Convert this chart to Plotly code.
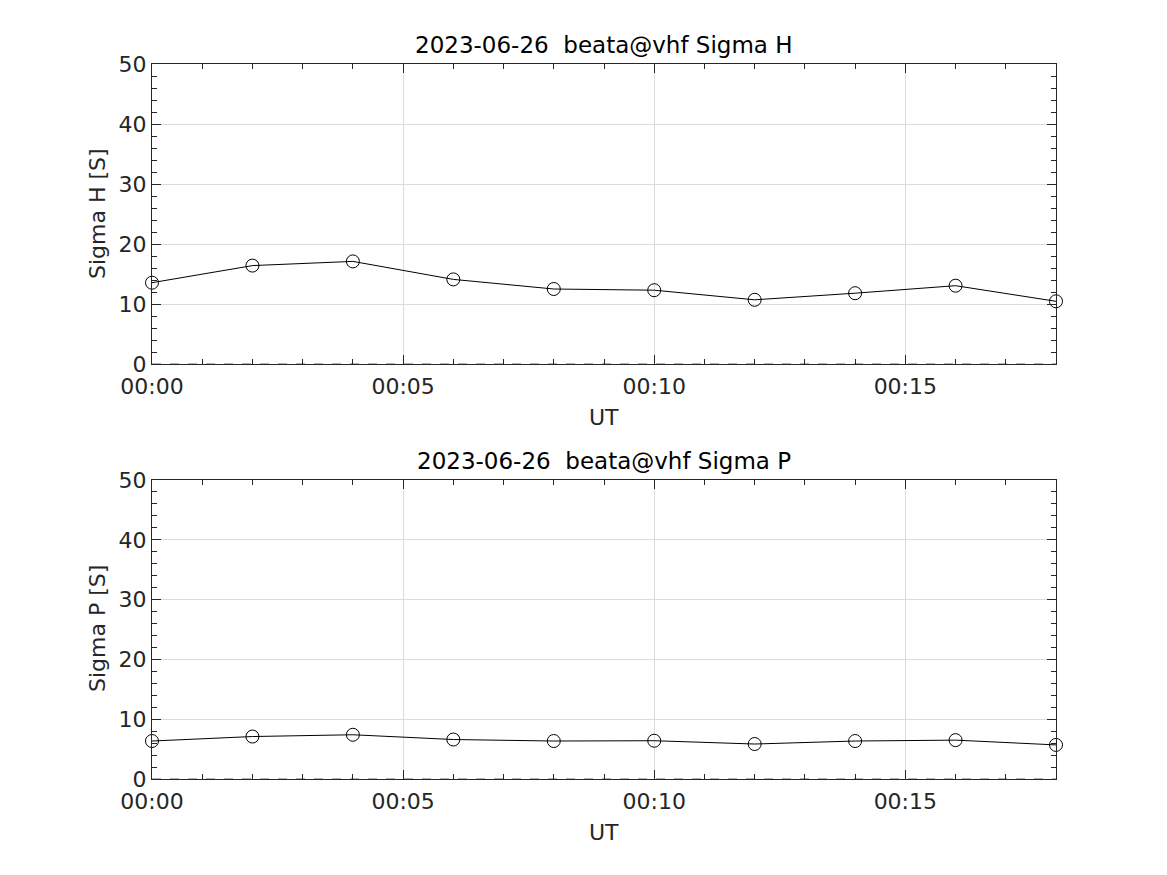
import plotly.graph_objects as go
import pandas as pd

times = ["2023-06-26 00:00", "2023-06-26 00:02", "2023-06-26 00:04", "2023-06-26 00:06",
         "2023-06-26 00:08", "2023-06-26 00:10", "2023-06-26 00:12", "2023-06-26 00:14",
         "2023-06-26 00:16", "2023-06-26 00:18"]
sigma_h = [13.55, 16.4, 17.1, 14.1, 12.5, 12.3, 10.7, 11.8, 13.05, 10.45]
sigma_p = [6.35, 7.1, 7.4, 6.6, 6.35, 6.4, 5.85, 6.35, 6.5, 5.7]
zero_line = [0] * len(times)

titles = ["2023-06-26  beata@vhf Sigma H", "2023-06-26  beata@vhf Sigma P"]
ylabels = ["Sigma H [S]", "Sigma P [S]"]
xlabel = "UT"
x_range = ["2023-06-26 00:00", "2023-06-26 00:18"]
y_range = [0, 50]
ytick_vals = [0, 10, 20, 30, 40, 50]

x = pd.to_datetime(times)

FONT = "DejaVu Sans, Liberation Sans, sans-serif"
TXT = "#262626"
FS = 22

OFF = 8  # page body margin
W, H = 1167 - 2 * OFF, 875 - 2 * OFF
L, R, T, B = 152 - OFF, 1056 - OFF, 64 - OFF, 779 - OFF  # plot area edges in px
PH = B - T

def py(p):
    return (B - (p - OFF)) / PH

def px(p):
    return ((p - OFF) - L) / (R - L)

fig = go.Figure()

for i, (vals, ax) in enumerate([(sigma_h, ""), (sigma_p, "2")]):
    fig.add_trace(go.Scatter(x=x, y=zero_line, mode="lines",
                             line=dict(color="#9a9a9a", width=1.5, dash="dash"),
                             xaxis="x" + ax, yaxis="y" + ax, showlegend=False,
                             hoverinfo="skip"))
    fig.add_trace(go.Scatter(x=x, y=vals, mode="lines+markers",
                             line=dict(color="black", width=1),
                             marker=dict(symbol="circle-open", size=13,
                                         color="black", line=dict(width=1, color="black")),
                             xaxis="x" + ax, yaxis="y" + ax, showlegend=False,
                             cliponaxis=False))

ydoms = [[py(364), 1.0], [0.0, py(480)]]

def xaxis_cfg(anchor):
    return dict(domain=[0, 1], anchor=anchor, type="date", automargin=False,
                range=x_range, tickformat="%H:%M", dtick=5 * 60 * 1000,
                tick0="2023-06-26 00:00", ticklabelstandoff=3,
                ticks="inside", ticklen=9, tickwidth=1, tickcolor=TXT,
                showline=True, linecolor=TXT, linewidth=1, mirror="ticks",
                showgrid=True, gridcolor="#dcdcdc", gridwidth=1,
                minor=dict(ticks="inside", ticklen=5, dtick=60 * 1000,
                           tickcolor=TXT, showgrid=False),
                tickfont=dict(family=FONT, size=FS, color=TXT),
                zeroline=False)

def yaxis_cfg(anchor, dom):
    return dict(domain=dom, anchor=anchor, range=y_range, automargin=False,
                tickvals=ytick_vals,
                ticks="inside", ticklen=9, tickwidth=1, tickcolor=TXT,
                showline=True, linecolor=TXT, linewidth=1, mirror="ticks",
                showgrid=True, gridcolor="#dcdcdc", gridwidth=1,
                minor=dict(ticks="inside", ticklen=5, dtick=2,
                           tickcolor=TXT, showgrid=False),
                tickfont=dict(family=FONT, size=FS, color=TXT),
                zeroline=False)

annotations = []
for title, ty in zip(titles, [45, 461]):
    annotations.append(dict(text=title, x=0.5, y=py(ty), xref="paper", yref="paper",
                            showarrow=False, font=dict(family=FONT, size=23, color="black"),
                            xanchor="center", yanchor="middle"))
for xy in [417, 832]:
    annotations.append(dict(text=xlabel, x=0.5, y=py(xy), xref="paper", yref="paper",
                            showarrow=False, font=dict(family=FONT, size=FS, color=TXT),
                            xanchor="center", yanchor="middle"))
for lab, cy in zip(ylabels, [214, 629]):
    annotations.append(dict(text=lab, x=px(97), y=py(cy), xref="paper", yref="paper",
                            showarrow=False, textangle=-90,
                            font=dict(family=FONT, size=FS, color=TXT),
                            xanchor="center", yanchor="middle"))

fig.update_layout(
    width=W, height=H,
    margin=dict(l=L, r=W - R, t=T, b=H - B, pad=0),
    plot_bgcolor="white", paper_bgcolor="white",
    xaxis=xaxis_cfg("y"),
    yaxis=yaxis_cfg("x", ydoms[0]),
    xaxis2=xaxis_cfg("y2"),
    yaxis2=yaxis_cfg("x2", ydoms[1]),
    annotations=annotations,
)

fig.write_html("out.html")
